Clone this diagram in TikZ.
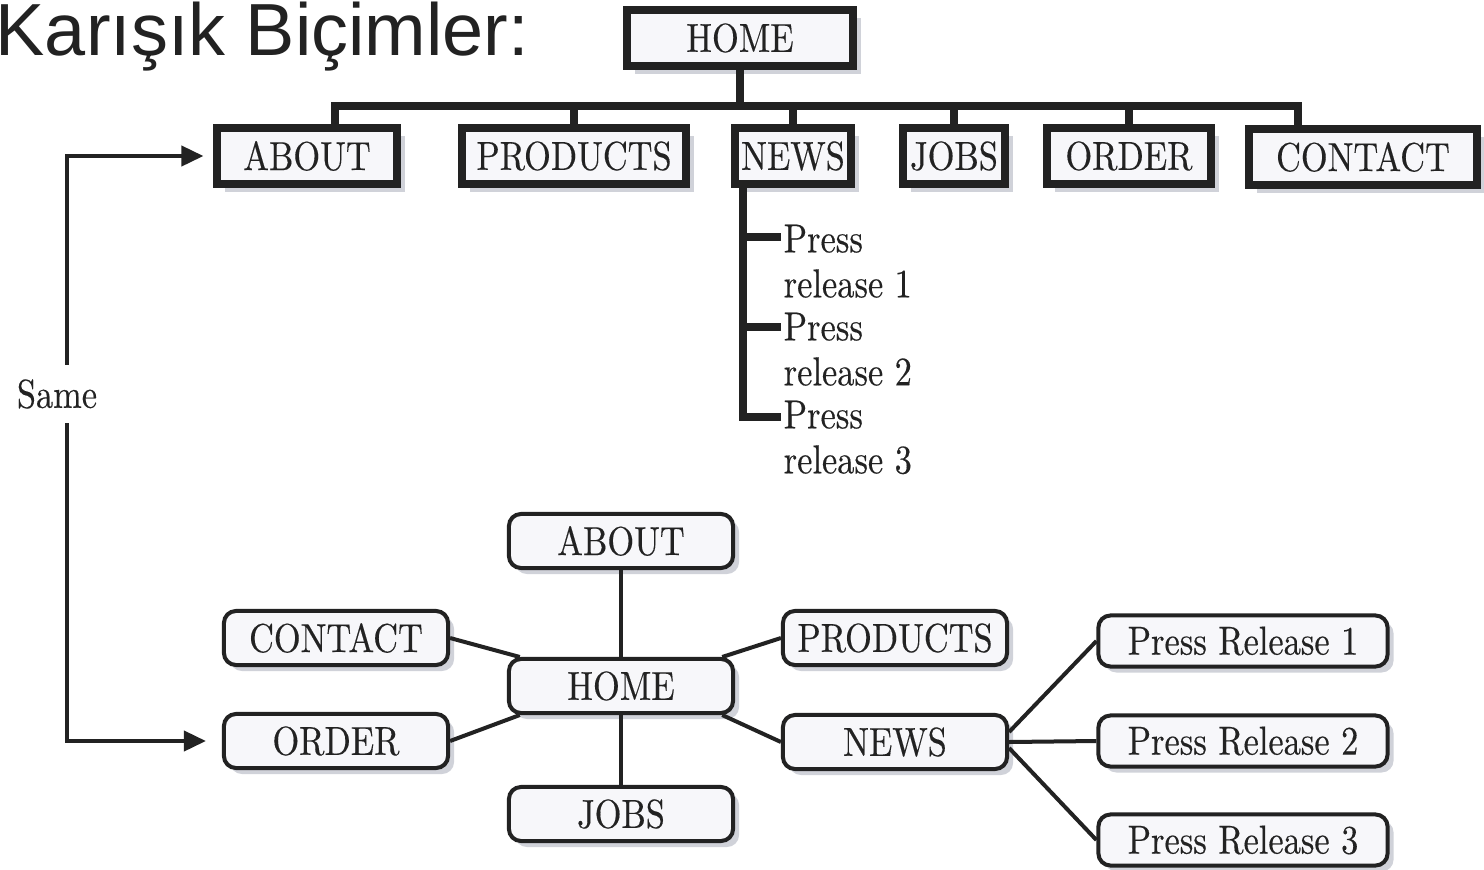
\documentclass[tikz,border=0pt]{standalone}
\usepackage{fontspec}
\setmainfont{lmroman10-regular}[Extension=.otf,FakeStretch=0.85,FakeBold=0.3]
\newfontfamily\titlefont{Liberation Sans}
\usetikzlibrary{arrows.meta,shadows}
\definecolor{ink}{HTML}{222222}
\definecolor{boxfill}{HTML}{F7F7FA}
\definecolor{shade}{HTML}{D0D2D9}

\begin{document}
\begin{tikzpicture}[x=0.01cm,y=-0.01cm,line join=miter,
    every node/.style={text=ink,font=\fontsize{11.5}{12.8}\selectfont},
    topbox/.style={draw=ink,fill=boxfill,line width=0.08cm,minimum height=0.55cm,inner sep=0pt,
      drop shadow={shadow xshift=0.08cm,shadow yshift=-0.08cm,fill=shade,opacity=1}},
    sitebox/.style={draw=ink,fill=boxfill,line width=0.04cm,rounded corners=0.12cm,
      minimum width=2.24cm,minimum height=0.54cm,inner sep=0pt,
      drop shadow={shadow xshift=0.06cm,shadow yshift=-0.06cm,fill=shade,opacity=1}},
    relbox/.style={sitebox,minimum width=2.89cm,minimum height=0.51cm},
    prtext/.style={anchor=north west,align=left,inner sep=0pt},
    bar/.style={draw=ink,line width=0.08cm},
    link/.style={draw=ink,line width=0.04cm},
    >={Triangle[length=0.22cm,width=0.2cm]}]
  \useasboundingbox (0,0) rectangle (1484,869);
  \clip (0,0) rectangle (1484,869);

  \node[anchor=base west,inner sep=0pt,font=\titlefont\fontsize{21}{25}\selectfont] (title) at (-5,55) {Karışık Biçimler:};

  % hierarchy
  \node[topbox,minimum width=2.26cm] (home) at (740,38) {HOME};
  \node[topbox,minimum width=1.79cm] (about) at (307,156) {ABOUT};
  \node[topbox,minimum width=2.24cm] (products) at (574,156) {PRODUCTS};
  \node[topbox,minimum width=1.16cm] (news) at (793,156) {NEWS};
  \node[topbox,minimum width=1.01cm] (jobs) at (954,156) {JOBS};
  \node[topbox,minimum width=1.64cm] (order) at (1129,156) {ORDER};
  \node[topbox,minimum width=2.28cm] (contact) at (1363,157) {CONTACT};

  \coordinate (barL) at (335,106);
  \coordinate (barR) at (1298,106);
  \draw[bar] (barL |- about.north) -- (barL) -- (barR) -- (barR |- contact.north);
  \draw[bar] (home.south) -- (home.south |- barL);
  \draw[bar] (products.north) -- (products.north |- barL);
  \draw[bar] (news.north) -- (news.north |- barL);
  \draw[bar] (jobs.north) -- (jobs.north |- barL);
  \draw[bar] (order.north) -- (order.north |- barL);

  \node[prtext] (pr1) at (783,224) {Press\\release 1};
  \node[prtext] (pr2) at (783,312) {Press\\release 2};
  \node[prtext] (pr3) at (783,400) {Press\\release 3};
  \coordinate (spine) at (743,419);
  \coordinate (b1) at (781,237);
  \coordinate (b2) at (781,327);
  \coordinate (b3) at (781,417);
  \draw[bar] (news.south -| spine) -- (spine |- b3) -- (b3);
  \draw[bar] (spine |- b1) -- (b1);
  \draw[bar] (spine |- b2) -- (b2);

  % web
  \node[sitebox] (home2) at (621,686) {HOME};
  \node[sitebox] (about2) at (621,541) {ABOUT};
  \node[sitebox] (jobs2) at (621,814) {JOBS};
  \node[sitebox] (contact2) at (336,638) {CONTACT};
  \node[sitebox] (order2) at (336,741) {ORDER};
  \node[sitebox] (products2) at (895,638) {PRODUCTS};
  \node[sitebox] (news2) at (895,742) {NEWS};
  \node[relbox] (rel1) at (1243,641) {Press Release 1};
  \node[relbox] (rel2) at (1243,741) {Press Release 2};
  \node[relbox] (rel3) at (1243,840) {Press Release 3};

  \draw[link] (home2) -- (about2);
  \draw[link] (home2) -- (jobs2);
  \draw[link] (contact2.east) -- (home2.164);
  \draw[link] (order2.east) -- (home2.196);
  \draw[link] (products2.west) -- (home2.16);
  \draw[link] (news2.west) -- (home2.-16);
  \draw[link] (news2.5) -- (rel1.west);
  \draw[link] (news2.east) -- (rel2.west);
  \draw[link] (news2.-3) -- (rel3.west);

  % same
  \node[inner xsep=0pt,inner ysep=0.14cm] (same) at (57,394) {Same};
  \coordinate (sameX) at (67,0);
  \draw[link,->] (same.north -| sameX) |- ([xshift=-0.1cm]about.west);
  \draw[link,->] (same.south -| sameX) |- ([xshift=-0.16cm]order2.west);
\end{tikzpicture}
\end{document}
